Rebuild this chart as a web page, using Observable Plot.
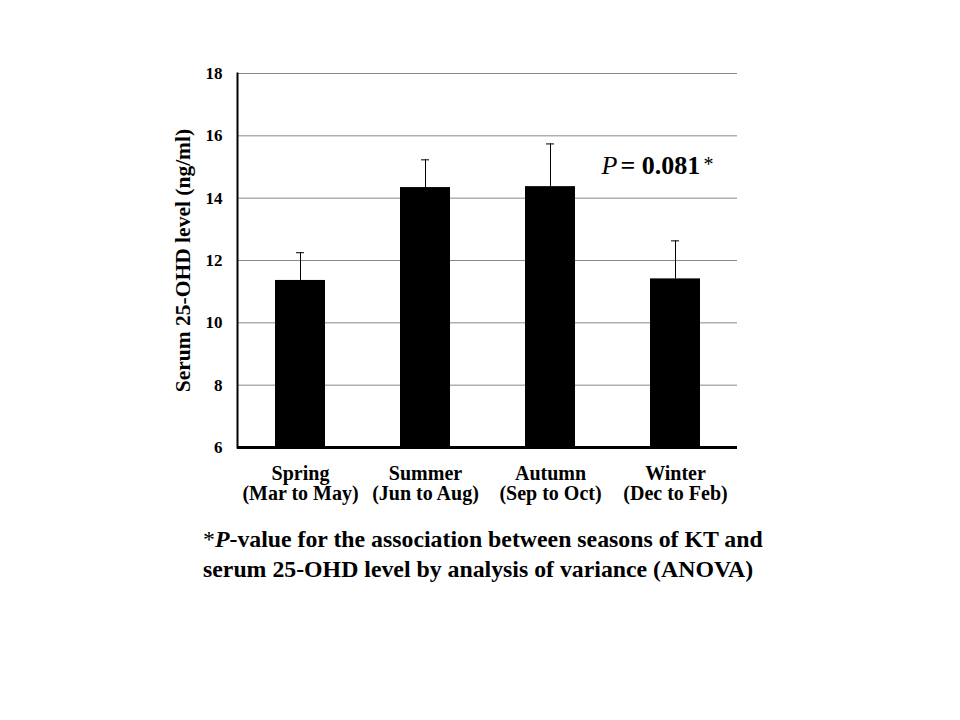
<!DOCTYPE html>
<html>
<head>
<meta charset="utf-8">
<script src="https://cdn.jsdelivr.net/npm/d3@7"></script>
<script src="https://cdn.jsdelivr.net/npm/@observablehq/plot@0.6"></script>
<style>
  html, body { margin: 0; padding: 0; background: #fff; }
  #wrap { position: relative; width: 960px; height: 720px; }
  #note { position: absolute; left: 203px; top: 524px; font-family: "Liberation Serif", "Times New Roman", serif;
          font-weight: bold; font-size: 23.8px; line-height: 30px; color: #000; white-space: nowrap; }
</style>
</head>
<body>
<div id="wrap">
  <div id="chart"></div>
  <div id="note"><span style="font-weight:normal">*</span><i>P</i>-value for the association between seasons of KT and<br>serum 25-OHD level by analysis of variance (ANOVA)</div>
</div>
<script>
const seasons = ["Spring", "Summer", "Autumn", "Winter"];
const months = ["(Mar to May)", "(Jun to Aug)", "(Sep to Oct)", "(Dec to Feb)"];
const means = [11.36, 14.34, 14.37, 11.41];
const upper = [12.25, 15.23, 15.74, 12.63];
const yTicks = [6, 8, 10, 12, 14, 16, 18];
const yLabel = "Serum 25-OHD level (ng/ml)";
const pText = "= 0.081";

const data = seasons.map((s, i) => ({season: s, months: months[i], mean: means[i], upper: upper[i]}));
const font = "'Liberation Serif', 'Times New Roman', serif";

const chart = Plot.plot({
  width: 960,
  height: 720,
  marginLeft: 237,
  marginRight: 223,
  marginTop: 73,
  marginBottom: 273,
  style: {fontFamily: font, fontWeight: "bold", fontSize: "17px", color: "#000", background: "#fff"},
  x: {domain: seasons, paddingInner: 0.6, paddingOuter: 0.3},
  y: {domain: [6, 18]},
  marks: [
    Plot.gridY(yTicks.filter(d => d > 6), {stroke: "#888", strokeOpacity: 1, strokeWidth: 1}),
    Plot.barY(data, {x: "season", y1: 6, y2: "mean", fill: "#000"}),
    Plot.ruleX(data, {x: "season", y1: "mean", y2: "upper", stroke: "#000", strokeWidth: 1}),
    Plot.tickY(data, {x: "season", y: "upper", stroke: "#000", strokeWidth: 1, insetLeft: 21, insetRight: 21}),
    Plot.axisY({ticks: yTicks, tickSize: 0, tickPadding: 15, fontSize: 17, fontWeight: "bold", tickFormat: d => String(d),
      label: null}),
    Plot.axisY({ticks: [], tickSize: 0, fontSize: 21.5, fontWeight: "bold",
      label: yLabel, labelAnchor: "center", labelArrow: "none", labelOffset: 63}),
    Plot.axisX({tickSize: 0, tickPadding: 18, fontSize: 20, lineHeight: 1.0, label: null,
      tickFormat: d => d + "\n" + months[seasons.indexOf(d)]}),
    Plot.frame({anchor: "left", stroke: "#000", strokeWidth: 2}),
    Plot.ruleY([6], {stroke: "#000", strokeWidth: 3}),
    Plot.text(["P"], {x: () => "Winter", y: () => 15.03, text: d => d, textAnchor: "end", dx: -58,
      fontSize: 26, fontStyle: "italic", fontWeight: "normal", fill: "#000"}),
    Plot.text([pText], {x: () => "Winter", y: () => 15.03, text: d => d, textAnchor: "start", dx: -55,
      fontSize: 26, fontWeight: "bold", fill: "#000"}),
    Plot.text(["*"], {x: () => "Winter", y: () => 15.03, text: d => d, textAnchor: "start", dx: 28, dy: -1,
      fontSize: 20, fontWeight: "normal", fill: "#000"})
  ]
});
document.getElementById("chart").appendChild(chart);
</script>
</body>
</html>
